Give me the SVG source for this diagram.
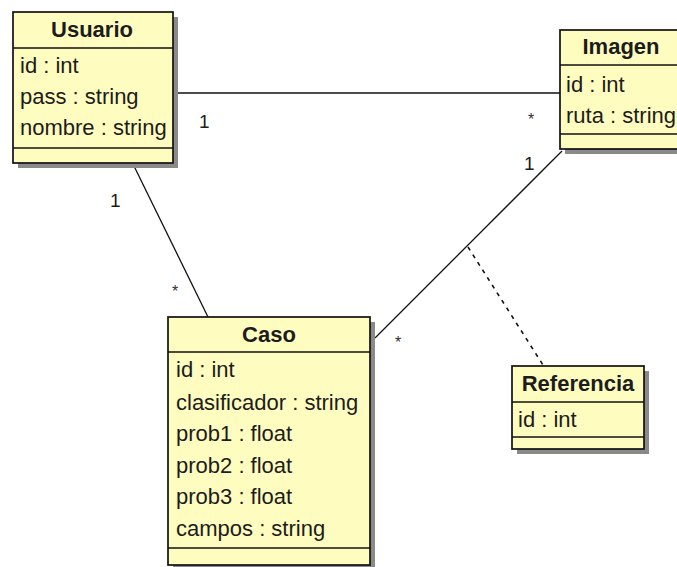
<svg xmlns="http://www.w3.org/2000/svg" width="677" height="567" viewBox="0 0 677 567">
  <style>
    .shadow { fill: #8a8a8a; }
    .box { fill: #fffcc0; stroke: #111; stroke-width: 1.7; }
    .div { stroke: #111; stroke-width: 1.7; }
    .title { font-family: "Liberation Sans", Arial, sans-serif; font-size: 22px; font-weight: bold; fill: #1c1c1c; text-anchor: middle; }
    .attr { font-family: "Liberation Sans", Arial, sans-serif; font-size: 22px; fill: #1c1c1c; }
    .assoc { stroke: #111; stroke-width: 1.3; fill: none; }
    .dash { stroke: #111; stroke-width: 1.6; fill: none; stroke-dasharray: 4 5; }
    .mult { font-family: "Liberation Sans", Arial, sans-serif; font-size: 19px; fill: #1c1c1c; }
    .star { font-family: "Liberation Sans", Arial, sans-serif; font-size: 16px; fill: #333; }
  </style>
  <rect width="677" height="567" fill="#ffffff"/>

  <!-- associations -->
  <g id="connectors">
    <line class="assoc" x1="173" y1="93" x2="560" y2="93"/>
    <line class="assoc" x1="133" y1="164" x2="208" y2="317"/>
    <line class="assoc" x1="562" y1="151" x2="375" y2="338"/>
    <line class="dash" x1="468" y1="247" x2="543" y2="365"/>
    <text class="mult" x="199" y="128">1</text>
    <text class="star" x="528" y="125">*</text>
    <text class="mult" x="110" y="207">1</text>
    <text class="star" x="172" y="297">*</text>
    <text class="mult" x="524" y="170">1</text>
    <text class="star" x="395" y="348">*</text>
  </g>

  <g id="usuario">
    <rect class="shadow" x="18" y="17" width="160" height="151"/>
    <rect class="box" x="13" y="12" width="160" height="151"/>
    <line class="div" x1="13" y1="48" x2="173" y2="48"/>
    <line class="div" x1="13" y1="148" x2="173" y2="148"/>
    <text class="title" x="92" y="37">Usuario</text>
    <text class="attr" x="20" y="73">id : int</text>
    <text class="attr" x="20" y="104">pass : string</text>
    <text class="attr" x="20" y="135">nombre : string</text>
  </g>

  <g id="imagen">
    <rect class="shadow" x="565" y="35" width="122" height="119"/>
    <rect class="box" x="560" y="30" width="122" height="119"/>
    <line class="div" x1="560" y1="65" x2="682" y2="65"/>
    <line class="div" x1="560" y1="134" x2="682" y2="134"/>
    <text class="title" x="621" y="54">Imagen</text>
    <text class="attr" x="566" y="92">id : int</text>
    <text class="attr" x="566" y="123">ruta : string</text>
  </g>

  <g id="caso">
    <rect class="shadow" x="173" y="322" width="202" height="248"/>
    <rect class="box" x="168" y="317" width="202" height="248"/>
    <line class="div" x1="168" y1="352" x2="370" y2="352"/>
    <line class="div" x1="168" y1="548" x2="370" y2="548"/>
    <text class="title" x="269" y="342">Caso</text>
    <text class="attr" x="176" y="377">id : int</text>
    <text class="attr" x="176" y="410">clasificador : string</text>
    <text class="attr" x="176" y="441">prob1 : float</text>
    <text class="attr" x="176" y="473">prob2 : float</text>
    <text class="attr" x="176" y="504">prob3 : float</text>
    <text class="attr" x="176" y="536">campos : string</text>
  </g>

  <g id="referencia">
    <rect class="shadow" x="517" y="371" width="132" height="83"/>
    <rect class="box" x="512" y="366" width="132" height="83"/>
    <line class="div" x1="512" y1="402" x2="644" y2="402"/>
    <line class="div" x1="512" y1="437" x2="644" y2="437"/>
    <text class="title" x="578" y="391">Referencia</text>
    <text class="attr" x="518" y="427">id : int</text>
  </g>
</svg>
